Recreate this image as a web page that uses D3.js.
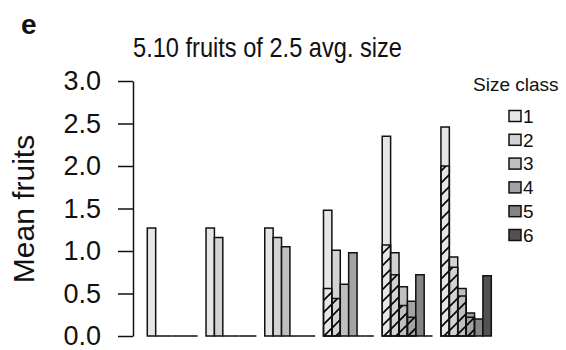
<!DOCTYPE html>
<html>
<head>
<meta charset="utf-8">
<script src="https://cdn.jsdelivr.net/npm/d3@7"></script>
<style>
  html, body { margin: 0; padding: 0; background: #fff; }
  svg { display: block; font-family: "Liberation Sans", Arial, sans-serif; }
</style>
</head>
<body>
<svg id="chart" width="566" height="350"></svg>
<script>
// ---- data ----
const groups = ["1", "2", "3", "4", "5", "6"];          // number of fruits (groups)
const sizeClasses = ["1", "2", "3", "4", "5", "6"];     // legend / bars within group
const totals = [
  [1.27, 0, 0, 0, 0, 0],
  [1.27, 1.16, 0, 0, 0, 0],
  [1.27, 1.16, 1.05, 0, 0, 0],
  [1.48, 1.01, 0.61, 0.98, 0, 0],
  [2.35, 0.98, 0.58, 0.41, 0.72, 0],
  [2.46, 0.93, 0.56, 0.27, 0.20, 0.71]
];
const hatched = [
  [0, 0, 0, 0, 0, 0],
  [0, 0, 0, 0, 0, 0],
  [0, 0, 0, 0, 0, 0],
  [0.56, 0.44, 0, 0, 0, 0],
  [1.07, 0.72, 0.36, 0.22, 0, 0],
  [2.00, 0.81, 0.47, 0.22, 0, 0]
];
const yTicks = [0, 0.5, 1, 1.5, 2, 2.5, 3];
const colors = ["#e6e6e6", "#d3d3d3", "#bfbfbf", "#a3a3a3", "#858585", "#525252"];
const titleText = "5.10 fruits of 2.5 avg. size";
const yLabel = "Mean fruits";
const legendTitle = "Size class";
const panelLetter = "e";

// ---- layout ----
const svg = d3.select("#chart");
const y = d3.scaleLinear().domain([0, 3]).range([336, 81]);
const nPer = sizeClasses.length;
const x = d3.scaleLinear().domain([0, groups.length * (nPer + 1)]).range([138.9, 491.3]);
const color = d3.scaleOrdinal().domain(sizeClasses).range(colors);

// hatch pattern
const defs = svg.append("defs");
const pat = defs.append("pattern")
  .attr("id", "hatch").attr("patternUnits", "userSpaceOnUse")
  .attr("width", 12).attr("height", 12);
pat.append("path")
  .attr("d", "M0,12 L12,0 M-3,3 L3,-3 M9,15 L15,9")
  .attr("stroke", "#000").attr("stroke-width", 1.6).attr("fill", "none");

// flatten bars
const bars = [];
groups.forEach((g, gi) => {
  sizeClasses.forEach((s, si) => {
    bars.push({ g: gi, s: s, si: si, u: gi * (nPer + 1) + 1 + si,
      v: totals[gi][si], h: hatched[gi][si] });
  });
});

function barPath(u, v) {
  const x0 = x(u), x1 = x(u + 1), y0 = y(0), y1 = y(v);
  return `M${x0},${y0}V${y1}H${x1}V${y0}Z`;
}

const gBars = svg.append("g");
gBars.selectAll("path.bar").data(bars).enter().append("path")
  .attr("class", "bar")
  .attr("d", d => barPath(d.u, d.v))
  .attr("fill", d => color(d.s))
  .attr("stroke", "#111").attr("stroke-width", 1.5)
  .attr("stroke-linejoin", "miter");

gBars.selectAll("path.hatch").data(bars.filter(d => d.h > 0)).enter().append("path")
  .attr("class", "hatch")
  .attr("d", d => barPath(d.u, d.h))
  .attr("fill", "url(#hatch)")
  .attr("stroke", "#111").attr("stroke-width", 1.5);

// y axis
const axis = svg.append("g").attr("transform", "translate(133,0)")
  .call(d3.axisLeft(y).tickValues(yTicks).tickFormat(d3.format(".1f"))
    .tickSize(15).tickSizeOuter(0).tickPadding(17));
axis.select(".domain").attr("stroke", "#111").attr("stroke-width", 1.5);
axis.selectAll(".tick line").attr("stroke", "#111").attr("stroke-width", 1.5);
axis.selectAll(".tick text").attr("font-size", 27).attr("fill", "#111")
  .attr("font-family", "Liberation Sans, Arial, sans-serif");

// y label
svg.append("text")
  .attr("transform", "translate(34,209) rotate(-90)")
  .attr("text-anchor", "middle")
  .attr("font-size", 30).attr("fill", "#111")
  .text(yLabel);

// title
svg.append("text")
  .attr("x", 133).attr("y", 57)
  .attr("font-size", 28).attr("fill", "#111")
  .attr("textLength", 269).attr("lengthAdjust", "spacingAndGlyphs")
  .text(titleText);

// panel letter
svg.append("text")
  .attr("x", 21).attr("y", 34)
  .attr("font-size", 28).attr("font-weight", "bold").attr("fill", "#111")
  .text(panelLetter);

// legend
svg.append("text")
  .attr("x", 473).attr("y", 91)
  .attr("font-size", 19).attr("fill", "#111")
  .text(legendTitle);
const ly = d3.scalePoint().domain(sizeClasses).range([116, 235]);
const leg = svg.append("g").selectAll("g").data(sizeClasses).enter().append("g");
leg.append("rect")
  .attr("x", 509).attr("y", d => ly(d) - 5.5)
  .attr("width", 12).attr("height", 11)
  .attr("fill", d => color(d))
  .attr("stroke", "#111").attr("stroke-width", 1.5);
leg.append("text")
  .attr("x", 523).attr("y", d => ly(d))
  .attr("dy", "0.36em")
  .attr("font-size", 19).attr("fill", "#111")
  .text(d => d);
</script>
</body>
</html>
